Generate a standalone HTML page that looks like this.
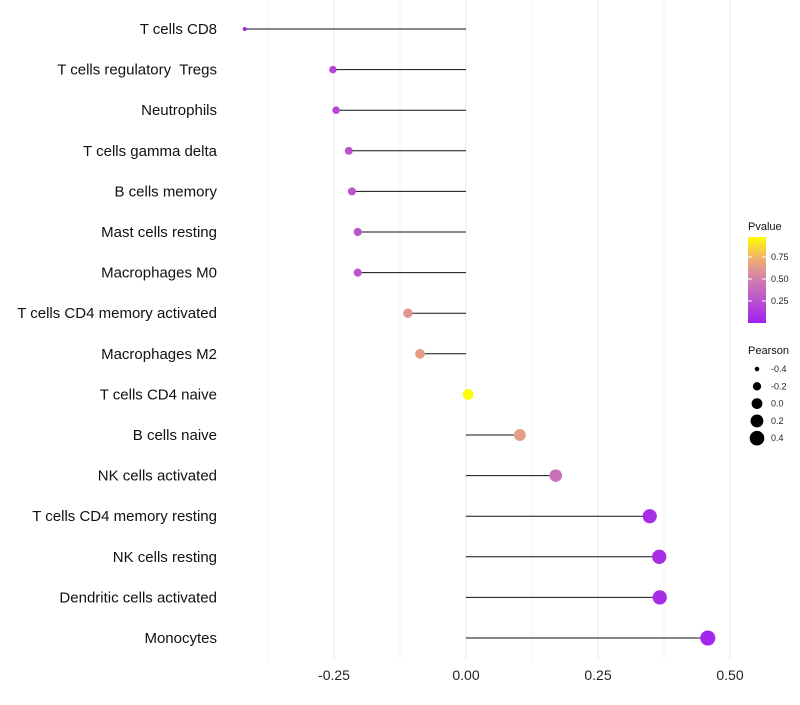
<!DOCTYPE html>
<html><head><meta charset="utf-8"><style>body{margin:0;background:#fff}svg{font-family:"Liberation Sans",sans-serif}text{white-space:pre}</style></head>
<body>
<svg id="c" width="800" height="700" xmlns="http://www.w3.org/2000/svg"></svg>
<script>
const categories=["T cells CD8","T cells regulatory  Tregs","Neutrophils","T cells gamma delta","B cells memory","Mast cells resting","Macrophages M0","T cells CD4 memory activated","Macrophages M2","T cells CD4 naive","B cells naive","NK cells activated","T cells CD4 memory resting","NK cells resting","Dendritic cells activated","Monocytes"];
const pearson=[-0.419,-0.252,-0.246,-0.222,-0.216,-0.205,-0.205,-0.110,-0.087,0.004,0.102,0.170,0.348,0.366,0.367,0.458];
const pvalue=[0.03,0.2,0.22,0.27,0.27,0.28,0.28,0.62,0.66,0.99,0.66,0.42,0.07,0.07,0.07,0.03];
const xTicks=[-0.25,0,0.25,0.5];
const xTickLabels=["-0.25","0.00","0.25","0.50"];
const pTicks=[0.25,0.5,0.75];
const sizeLegend=[-0.4,-0.2,0,0.2,0.4];
const NS="http://www.w3.org/2000/svg",svg=document.getElementById('c');
const x=v=>466+v*528, y=i=>29+i*40.6;
const r=v=>Math.sqrt(4+60*Math.max(0,v+0.42));
function mk(t,a,p){const e=document.createElementNS(NS,t);for(const k in a)e.setAttribute(k,a[k]);(p||svg).appendChild(e);return e;}
function lerp(a,b,t){return a.map((v,i)=>Math.round(v+(b[i]-v)*t));}
const stops=[[0,[160,32,240]],[0.5,[208,126,176]],[0.75,[240,176,112]],[1,[255,255,0]]];
function col(p){for(let i=1;i<stops.length;i++){if(p<=stops[i][0]){const t=(p-stops[i-1][0])/(stops[i][0]-stops[i-1][0]);const c=lerp(stops[i-1][1],stops[i][1],t);return `rgb(${c})`;}}return 'rgb(255,255,0)';}
[-0.375,-0.125,0.125,0.375].forEach(v=>{const g=mk('line',{x1:x(v),x2:x(v),y1:0,y2:660,stroke:'#f3f3f3','stroke-width':1});});
xTicks.forEach((v,i)=>{const g=mk('line',{x1:x(v),x2:x(v),y1:0,y2:660,stroke:'#ebebeb','stroke-width':1});
const t=mk('text',{x:x(v),y:680,'text-anchor':'middle','font-size':14,fill:'#222'});t.textContent=xTickLabels[i];});
categories.forEach((c,i)=>{
const t=mk('text',{x:217,y:y(i)+5,'text-anchor':'end','font-size':15,fill:'#111'});t.textContent=c;
const l=mk('line',{x1:x(0),x2:x(pearson[i]),y1:y(i),y2:y(i),stroke:'#111','stroke-width':1});
const d=mk('circle',{cx:x(pearson[i]),cy:y(i),r:r(pearson[i]),fill:col(pvalue[i])});
});
const defs=mk('defs',{});const lg=mk('linearGradient',{id:'g',x1:0,y1:1,x2:0,y2:0},defs);
stops.forEach(s=>mk('stop',{offset:s[0],'stop-color':`rgb(${s[1]})`},lg));
let t=mk('text',{x:748,y:230,'font-size':11,fill:'#111'});t.textContent='Pvalue';
const bar=mk('rect',{x:748,y:237,width:18,height:86,fill:'url(#g)'});
pTicks.forEach(p=>{const yy=323-p*88;mk('line',{x1:748,x2:752,y1:yy,y2:yy,stroke:'#fff'});mk('line',{x1:762,x2:766,y1:yy,y2:yy,stroke:'#fff'});
const tt=mk('text',{x:771,y:yy+3,'font-size':9,fill:'#222'});tt.textContent=p.toFixed(2);});
t=mk('text',{x:748,y:354,'font-size':11,fill:'#111'});t.textContent='Pearson';
sizeLegend.forEach((v,i)=>{const yy=369+i*17.3;const c=mk('circle',{cx:757,cy:yy,r:r(v),fill:'#000'});
const tt=mk('text',{x:771,y:yy+3,'font-size':9,fill:'#222'});tt.textContent=v.toFixed(1);});
</script>
</body></html>
